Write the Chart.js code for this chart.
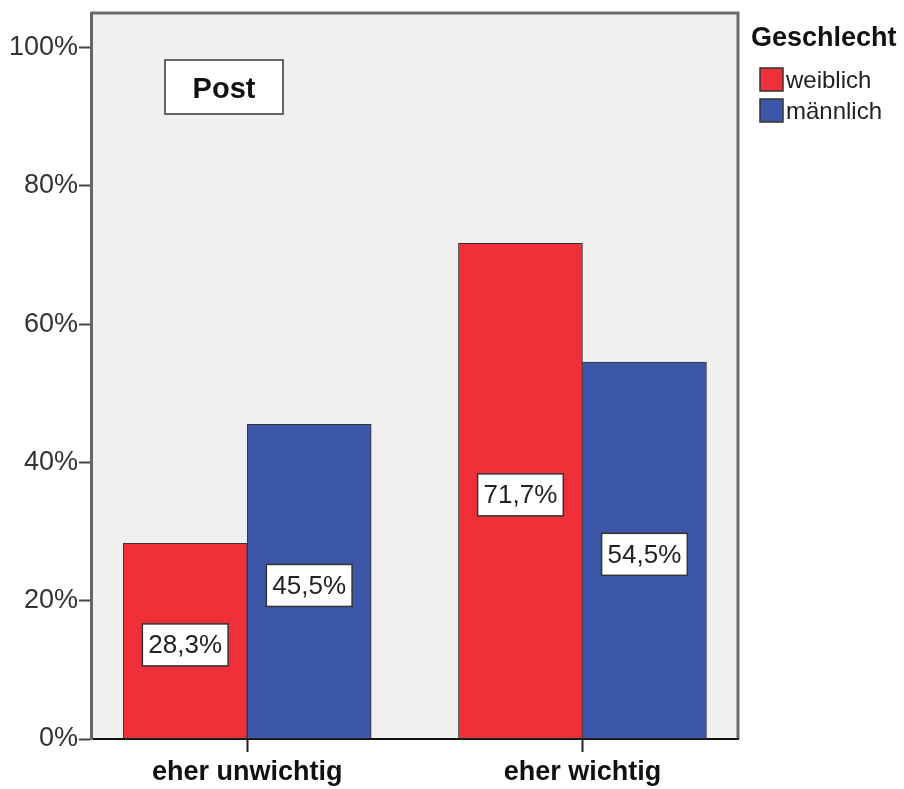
<!DOCTYPE html>
<html>
<head>
<meta charset="utf-8">
<script src="https://cdn.jsdelivr.net/npm/chart.js@4"></script>
<style>
  body { margin: 0; background: #fff; }
</style>
</head>
<body>
<canvas id="chart" width="904" height="789"></canvas>
<script>
const categories = ['eher unwichtig', 'eher wichtig'];
const weiblich = [28.3, 71.7];
const maennlich = [45.5, 54.5];
const yTicks = [0, 20, 40, 60, 80, 100];
const seriesNames = ['weiblich', 'männlich'];
const legendTitle = 'Geschlecht';
const panelTitle = 'Post';

const RED = '#EF3039';
const BLUE = '#3D57A8';
const FONT = '"Liberation Sans", Arial, sans-serif';

const fmt = v => v.toFixed(1).replace('.', ',') + '%';

// grey plot background + frame
const plotFrame = {
  id: 'plotFrame',
  beforeDraw(chart) {
    const { ctx, chartArea: a } = chart;
    ctx.save();
    ctx.fillStyle = '#F0F0F0';
    ctx.fillRect(a.left, a.top, a.right - a.left, a.bottom - a.top);
    ctx.strokeStyle = '#6a6a6a';
    ctx.lineWidth = 3;
    ctx.beginPath();
    ctx.moveTo(a.left, a.top);
    ctx.lineTo(a.right, a.top);
    ctx.lineTo(a.right, a.bottom);
    ctx.stroke();
    ctx.restore();
  }
};

// value boxes, "Post" box and the legend
const extras = {
  id: 'extras',
  afterDatasetsDraw(chart) {
    const { ctx } = chart;
    ctx.save();
    ctx.font = '26px ' + FONT;
    ctx.textAlign = 'center';
    ctx.textBaseline = 'middle';
    chart.data.datasets.forEach((ds, i) => {
      chart.getDatasetMeta(i).data.forEach((bar, j) => {
        const txt = fmt(ds.data[j].y);
        const cy = (bar.y + bar.base) / 2 + 4;
        const w = ctx.measureText(txt).width + 12;
        const h = 42;
        ctx.fillStyle = '#fff';
        ctx.fillRect(bar.x - w / 2, cy - h / 2, w, h);
        ctx.strokeStyle = '#333';
        ctx.lineWidth = 1.5;
        ctx.strokeRect(bar.x - w / 2, cy - h / 2, w, h);
        ctx.fillStyle = '#222';
        ctx.fillText(txt, bar.x, cy + 1);
      });
    });

    // Post label
    ctx.fillStyle = '#fff';
    ctx.fillRect(165, 60, 118, 54);
    ctx.strokeStyle = '#666';
    ctx.lineWidth = 2;
    ctx.strokeRect(165, 60, 118, 54);
    ctx.fillStyle = '#111';
    ctx.font = 'bold 29px ' + FONT;
    ctx.fillText(panelTitle, 224, 90);

    // legend
    ctx.textAlign = 'left';
    ctx.font = 'bold 27px ' + FONT;
    ctx.fillText(legendTitle, 751, 39);
    ctx.font = '24px ' + FONT;
    chart.data.datasets.forEach((ds, i) => {
      const y = 68 + i * 31;
      ctx.fillStyle = ds.backgroundColor;
      ctx.fillRect(760, y, 23, 23);
      ctx.strokeStyle = '#333';
      ctx.lineWidth = 1.5;
      ctx.strokeRect(760, y, 23, 23);
      ctx.fillStyle = '#222';
      ctx.fillText(ds.label, 786, y + 13);
    });
    ctx.restore();
  }
};

const toPoints = arr => arr.map((v, i) => ({ x: i, y: v }));

new Chart(document.getElementById('chart'), {
  type: 'bar',
  data: {
    datasets: [
      { label: seriesNames[0], data: toPoints(weiblich), backgroundColor: RED, borderColor: '#333', borderWidth: 1, borderSkipped: false },
      { label: seriesNames[1], data: toPoints(maennlich), backgroundColor: BLUE, borderColor: '#333', borderWidth: 1, borderSkipped: false }
    ]
  },
  options: {
    responsive: false,
    animation: false,
    barThickness: 124,
    layout: { padding: { left: 0, top: 13, right: 166, bottom: 0 } },
    plugins: { legend: { display: false }, tooltip: { enabled: false } },
    scales: {
      x: {
        type: 'linear',
        offset: false,
        min: -0.466,
        max: 1.464,
        afterBuildTicks: s => { s.ticks = categories.map((c, i) => ({ value: i })); },
        afterFit: s => { s.height = 50; },
        grid: { offset: false, drawOnChartArea: false, drawTicks: true, tickLength: 13, color: '#222', tickWidth: 2 },
        border: { display: true, color: '#111', width: 2 },
        ticks: {
          color: '#111',
          font: { family: FONT, size: 27, weight: 'bold' },
          padding: 4,
          autoSkip: false,
          maxRotation: 0,
          callback: v => categories[v]
        }
      },
      y: {
        min: 0,
        max: 105,
        afterBuildTicks: s => { s.ticks = yTicks.map(v => ({ value: v })); },
        afterFit: s => { s.width = 91; s.paddingTop = 0; s.paddingBottom = 0; },
        grid: { drawOnChartArea: false, drawTicks: true, tickLength: 12, color: '#444', tickWidth: 2 },
        border: { display: true, color: '#666', width: 3 },
        ticks: {
          color: '#333',
          font: { family: FONT, size: 27 },
          padding: 1,
          callback: v => v + '%'
        }
      }
    }
  },
  plugins: [plotFrame, extras]
});
</script>
</body>
</html>
